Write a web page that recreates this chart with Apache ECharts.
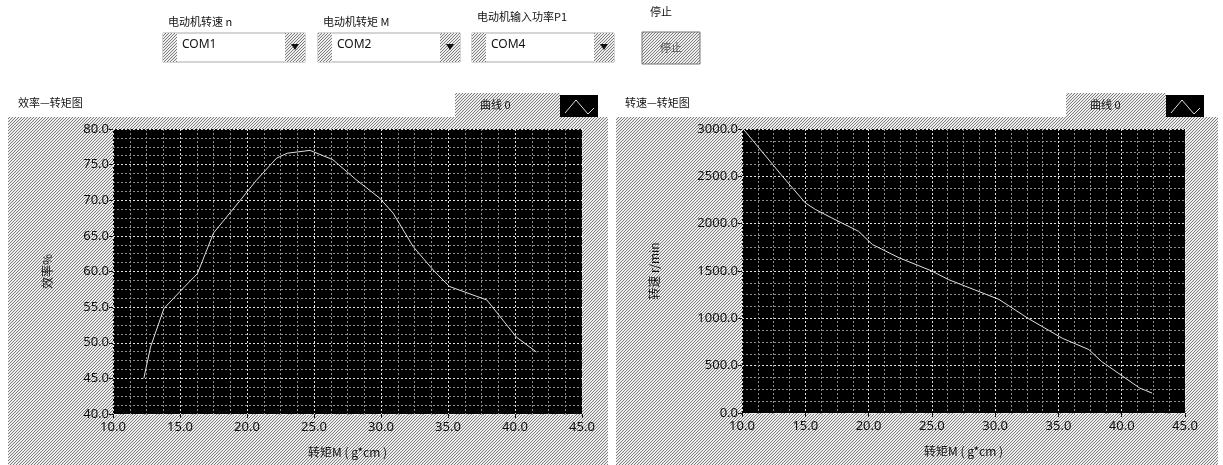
<!DOCTYPE html>
<html>
<head>
<meta charset="utf-8">
<script src="https://cdn.jsdelivr.net/npm/echarts@6/dist/echarts.min.js"></script>
<style>
  html, body { margin: 0; padding: 0; background: #fff; }
  #main { width: 1223px; height: 465px; }
</style>
</head>
<body>
<div id="main"></div>
<script>
// 效率—转矩图
var effTorque = [12.3, 12.8, 13.8, 15.0, 16.3, 17.5, 19.5, 20.7, 22.2, 23.0, 24.7, 26.4, 28.2, 29.9, 30.9, 32.4, 33.9, 35.1, 37.9, 40.1, 41.6];
var effValue = [45.0, 49.4, 54.8, 57.2, 59.7, 65.4, 70.0, 72.8, 75.9, 76.6, 77.0, 75.7, 72.8, 70.3, 68.2, 63.5, 60.2, 57.9, 56.0, 50.8, 48.7];
// 转速—转矩图
var spdTorque = [10.1, 13.2, 15.0, 15.8, 17.1, 19.2, 20.3, 22.4, 25.0, 26.3, 28.4, 30.3, 32.6, 35.3, 37.4, 38.4, 41.4, 42.4];
var spdValue = [3000, 2500, 2220, 2150, 2060, 1920, 1780, 1640, 1500, 1410, 1300, 1200, 1000, 790, 670, 545, 265, 210];

var comPorts = ['COM1', 'COM2', 'COM4'];
var comLabels = ['电动机转速 n', '电动机转矩 M', '电动机输入功率P1'];

function pairs(xs, ys) {
  return xs.map(function (x, i) { return [x, ys[i]]; });
}

// 灰色网纹底
function makePattern() {
  var c = document.createElement('canvas');
  c.width = 3; c.height = 3;
  var ctx = c.getContext('2d');
  ctx.fillStyle = '#eeeeee';
  ctx.fillRect(0, 0, 3, 3);
  ctx.fillStyle = '#7c7c7c';
  for (var y = 0; y < 3; y++) {
    for (var x = 0; x < 3; x++) {
      if ((x + y) % 3 === 0) ctx.fillRect(x, y, 1, 1);
    }
  }
  return { image: c, repeat: 'repeat' };
}
var gray = makePattern();

var chart = echarts.init(document.getElementById('main'));
var cjk = '"Noto Sans CJK SC", sans-serif';
var num = '"Noto Sans", "DejaVu Sans", sans-serif';

function xAxisOf(gridIndex) {
  return {
    type: 'value',
    gridIndex: gridIndex,
    min: 10,
    max: 45,
    interval: 5,
    name: '转矩M ( g*cm )',
    nameLocation: 'middle',
    nameGap: 32,
    nameTextStyle: { color: '#111', fontSize: 12, fontFamily: cjk },
    axisLine: { show: false },
    axisTick: { show: true, length: 4, lineStyle: { color: '#111' } },
    minorTick: { show: true, splitNumber: 4, length: 1, lineStyle: { color: '#999' } },
    axisLabel: {
      color: '#111', fontSize: 13, fontFamily: num, margin: 7,
      formatter: function (v) { return v.toFixed(1); }
    },
    splitLine: { show: true, lineStyle: { color: '#e0e0e0', type: [2, 2], width: 1 } },
    minorSplitLine: { show: true, lineStyle: { color: '#8a8a8a', type: [2, 2], width: 1 } }
  };
}

function yAxisOf(gridIndex, min, max, interval, name, gap) {
  return {
    type: 'value',
    gridIndex: gridIndex,
    min: min,
    max: max,
    interval: interval,
    name: name,
    nameLocation: 'middle',
    nameRotate: 90,
    nameGap: gap,
    nameTextStyle: { color: '#111', fontSize: 12, fontFamily: cjk },
    axisLine: { show: false },
    axisTick: { show: true, length: 4, lineStyle: { color: '#111' } },
    axisLabel: {
      color: '#111', fontSize: 13, fontFamily: num, margin: 4,
      formatter: function (v) { return v.toFixed(1); }
    },
    splitLine: { show: true, lineStyle: { color: '#e0e0e0', type: [2, 2], width: 1 } },
    minorTick: { show: true, splitNumber: 4, length: 1, lineStyle: { color: '#999' } },
    minorSplitLine: { show: true, lineStyle: { color: '#8a8a8a', type: [2, 2], width: 1 } }
  };
}

var graphics = [
  // 面板
  { type: 'rect', shape: { x: 8, y: 117, width: 600, height: 348 }, style: { fill: gray }, z: -10 },
  { type: 'rect', shape: { x: 616, y: 117, width: 602, height: 348 }, style: { fill: gray }, z: -10 },
  // 图标题
  { type: 'text', x: 18, y: 103, style: { text: '效率—转矩图', fill: '#111', font: '11px ' + cjk, verticalAlign: 'middle' } },
  { type: 'text', x: 625, y: 103, style: { text: '转速—转矩图', fill: '#111', font: '11px ' + cjk, verticalAlign: 'middle' } },
  // 图例
  { type: 'rect', shape: { x: 455, y: 93, width: 105, height: 25 }, style: { fill: gray }, z: -10 },
  { type: 'text', x: 480, y: 105, style: { text: '曲线 0', fill: '#111', font: '11px ' + cjk, verticalAlign: 'middle' } },
  { type: 'rect', shape: { x: 560, y: 95, width: 38, height: 22 }, style: { fill: '#000' } },
  { type: 'polyline', shape: { points: [[565, 113], [576, 100], [588, 114], [594, 108]] }, style: { stroke: '#ddd', lineWidth: 1, fill: null } },
  { type: 'rect', shape: { x: 1066, y: 93, width: 100, height: 25 }, style: { fill: gray }, z: -10 },
  { type: 'text', x: 1090, y: 105, style: { text: '曲线 0', fill: '#111', font: '11px ' + cjk, verticalAlign: 'middle' } },
  { type: 'rect', shape: { x: 1166, y: 95, width: 38, height: 22 }, style: { fill: '#000' } },
  { type: 'polyline', shape: { points: [[1171, 113], [1182, 100], [1194, 114], [1200, 108]] }, style: { stroke: '#ddd', lineWidth: 1, fill: null } },
  // 停止按钮
  { type: 'text', x: 650, y: 12, style: { text: '停止', fill: '#111', font: '11px ' + cjk, verticalAlign: 'middle' } },
  { type: 'rect', shape: { x: 642, y: 32, width: 58, height: 32 }, style: { fill: gray, stroke: '#777', lineWidth: 1 } },
  { type: 'text', x: 671, y: 48, style: { text: '停止', fill: '#555', font: '11px ' + cjk, align: 'center', verticalAlign: 'middle' } }
];

var boxX = [163, 318, 472];
var labelY = [22, 22, 17];
comPorts.forEach(function (p, i) {
  var x = boxX[i];
  graphics.push(
    { type: 'text', x: x + 5, y: labelY[i], style: { text: comLabels[i], fill: '#111', font: '11px ' + cjk, verticalAlign: 'middle' } },
    { type: 'rect', shape: { x: x, y: 33, width: 142, height: 29 }, style: { fill: '#fff', stroke: '#aaa', lineWidth: 1 } },
    { type: 'rect', shape: { x: x, y: 33, width: 14, height: 29 }, style: { fill: gray } },
    { type: 'rect', shape: { x: x + 122, y: 33, width: 20, height: 29 }, style: { fill: gray } },
    { type: 'polygon', shape: { points: [[x + 128, 44], [x + 136, 44], [x + 132, 50]] }, style: { fill: '#111' } },
    { type: 'text', x: x + 19, y: 45, style: { text: p, fill: '#111', font: '12px ' + num, verticalAlign: 'middle' } }
  );
});

var option = {
  backgroundColor: '#fff',
  animation: false,
  grid: [
    { left: 113, top: 129, width: 469, height: 285, show: true, backgroundColor: '#000', borderWidth: 0 },
    { left: 742, top: 129, width: 443, height: 284, show: true, backgroundColor: '#000', borderWidth: 0 }
  ],
  xAxis: [xAxisOf(0), xAxisOf(1)],
  yAxis: [
    yAxisOf(0, 40, 80, 5, '效率%', 60),
    yAxisOf(1, 0, 3000, 500, '转速 r/min', 82)
  ],
  series: [
    {
      type: 'line', xAxisIndex: 0, yAxisIndex: 0,
      data: pairs(effTorque, effValue),
      showSymbol: false, smooth: false,
      lineStyle: { color: '#e0e0e0', width: 1 }
    },
    {
      type: 'line', xAxisIndex: 1, yAxisIndex: 1,
      data: pairs(spdTorque, spdValue),
      showSymbol: false, smooth: false,
      lineStyle: { color: '#e0e0e0', width: 1 }
    }
  ],
  graphic: graphics
};
chart.setOption(option);
</script>
</body>
</html>
